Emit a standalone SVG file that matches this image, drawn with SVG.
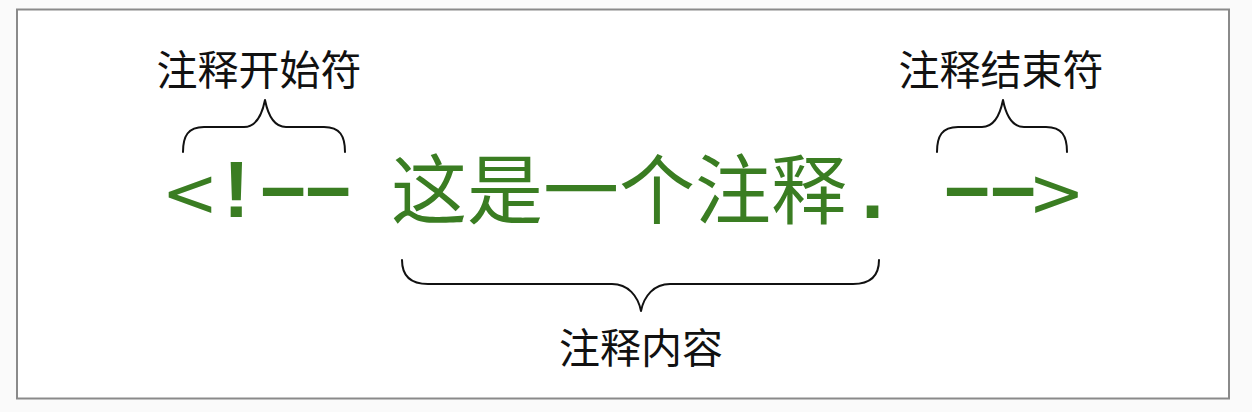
<svg xmlns="http://www.w3.org/2000/svg" width="1252" height="412" viewBox="0 0 1252 412">
  <style>
    .label { font-family: "Noto Sans CJK SC", "Noto Sans", sans-serif; font-size: 41px; fill: #111; text-anchor: middle; }
    .code { font-family: "DejaVu Sans", "Liberation Sans", sans-serif; font-size: 68px; fill: #3a7d22; }
    .bang { font-family: "Liberation Sans", sans-serif; font-weight: bold; font-size: 79px; }
    .dash { font-family: "Inter", sans-serif; font-weight: 300; font-size: 133px; }
    .cjk { font-family: "Noto Sans CJK SC", "Noto Sans", sans-serif; font-size: 76px; fill: #3a7d22; }
    .dot { font-family: "DejaVu Sans", sans-serif; font-weight: bold; font-size: 66px; }
    .brace { fill: none; stroke: #111; stroke-width: 2; stroke-linecap: round; stroke-linejoin: round; }
  </style>
  <rect x="0" y="0" width="1252" height="412" fill="#fafafa"/>
  <rect x="17" y="9.5" width="1212" height="389" fill="#ffffff" stroke="#8a8a8a" stroke-width="2"/>

  <g id="connectors">
    <path class="brace" d="M183,152 C183,136 188,127 204,127 L244,127 C256,127 262,115 265,100 C268,115 274,127 286,127 L324,127 C340,127 345,136 345,152"/>
    <path class="brace" d="M937,152 C937,136 942,127 958,127 L982,127 C994,127 1000,115 1003,100 C1006,115 1012,127 1024,127 L1046,127 C1062,127 1067,136 1067,152"/>
    <path class="brace" d="M402,260 C402,276 410,284 428,284 L612,284 C628,284 638,296 641,311 C644,296 654,284 670,284 L853,284 C871,284 879,276 879,260"/>
  </g>

  <g id="label-start">
    <text class="label" x="259" y="85">注释开始符</text>
  </g>
  <g id="label-end">
    <text class="label" x="1001" y="85">注释结束符</text>
  </g>
  <g id="label-content">
    <text class="label" x="641" y="363">注释内容</text>
  </g>

  <g id="code-start">
    <text class="code"><tspan x="190" y="216" text-anchor="middle">&lt;</tspan><tspan class="bang" x="236.5" y="217" text-anchor="middle">!</tspan><tspan class="dash" x="253 298" y="233">--</tspan></text>
  </g>
  <g id="code-content">
    <text class="cjk" x="391" y="218">这是一个注释<tspan class="dot" x="860">.</tspan></text>
  </g>
  <g id="code-end">
    <text class="code"><tspan class="dash" x="937 983" y="233">--</tspan><tspan x="1056.5" y="216" text-anchor="middle">&gt;</tspan></text>
  </g>
</svg>
